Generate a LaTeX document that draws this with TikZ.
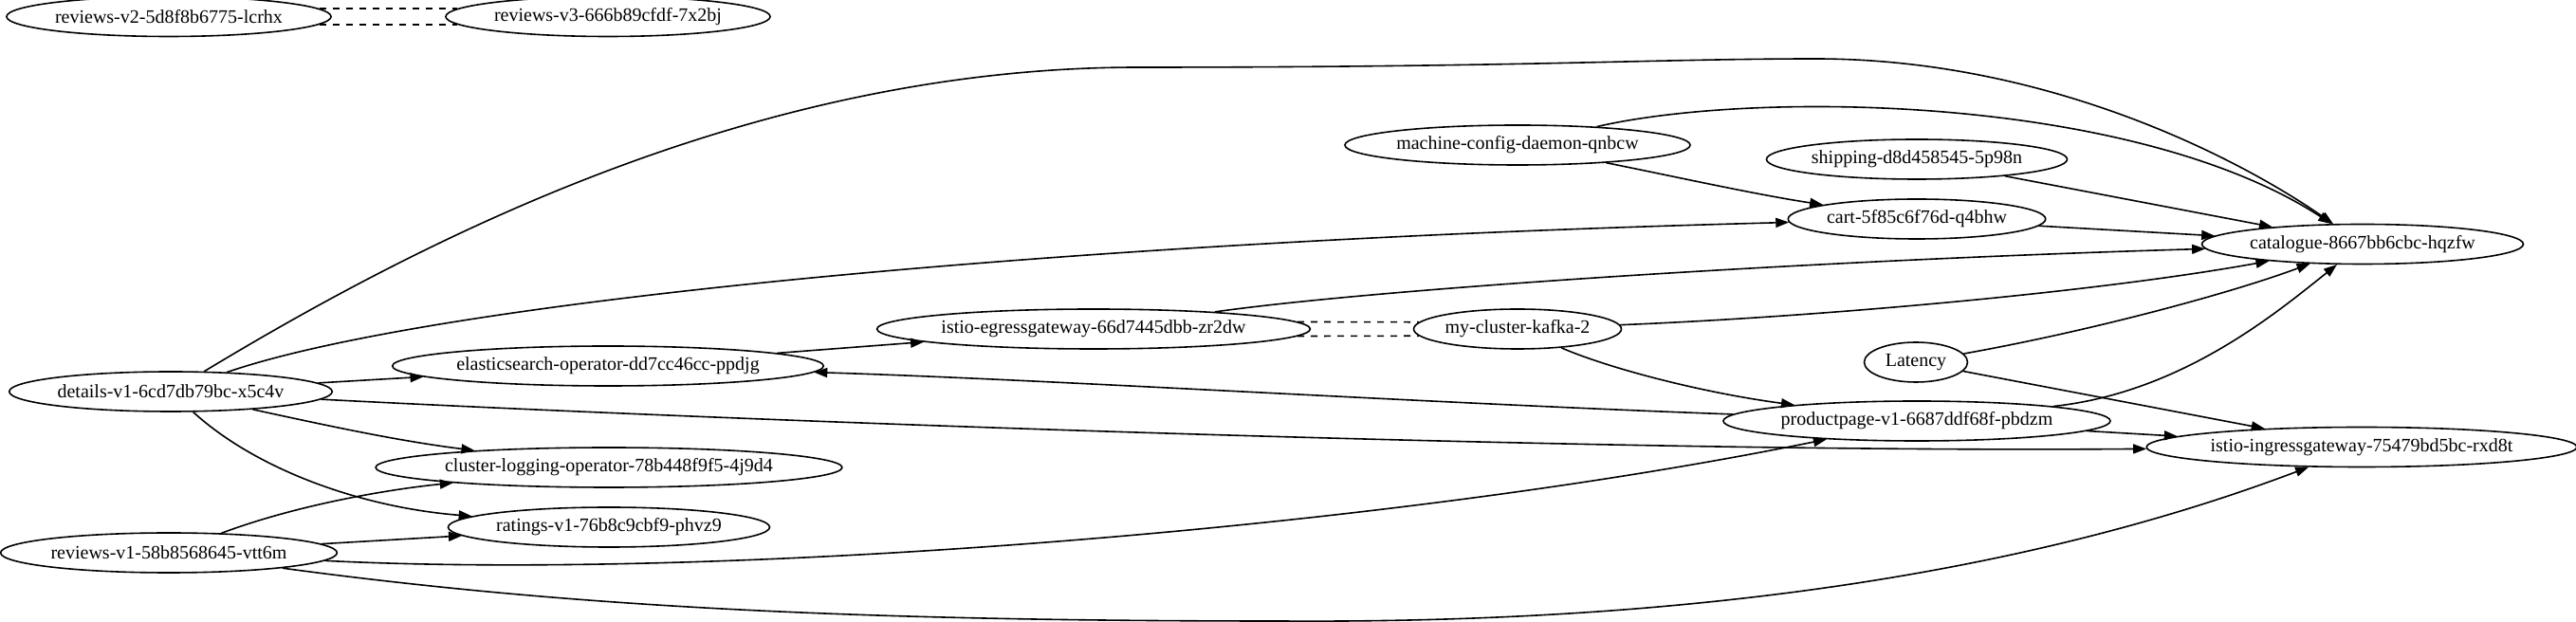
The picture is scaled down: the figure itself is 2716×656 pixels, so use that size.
\documentclass[tikz,border=0pt]{standalone}
\usepackage{fontspec}
\setmainfont{Liberation Serif}
\usepackage{tikz}
\usetikzlibrary{shapes, arrows.meta}
\tikzset{>={Triangle[length=7pt,width=5pt]}}

\begin{document}
\begin{tikzpicture}
[x=0.5pt, y=-0.5pt, line width=0.8pt,
pod/.style={ellipse, draw, inner xsep=0.5pt, inner ysep=1pt, minimum height=21pt},
twin/.style={dash pattern=on 3.5pt off 3.5pt}]
\useasboundingbox (0,0) rectangle (2716,656);

\node[pod] (rv2)  at (178,17.5)   {reviews-v2-5d8f8b6775-lcrhx};
\node[pod] (rv3)  at (641,17.5)   {reviews-v3-666b89cfdf-7x2bj};
\node[pod] (det)  at (180,413)    {details-v1-6cd7db79bc-x5c4v};
\node[pod] (es)   at (641,386)    {elasticsearch-operator-dd7cc46cc-ppdjg};
\node[pod] (clo)  at (642,493)    {cluster-logging-operator-78b448f9f5-4j9d4};
\node[pod] (rat)  at (642,556)    {ratings-v1-76b8c9cbf9-phvz9};
\node[pod] (rv1)  at (178,583)    {reviews-v1-58b8568645-vtt6m};
\node[pod] (egr)  at (1153,347)   {istio-egressgateway-66d7445dbb-zr2dw};
\node[pod] (kaf)  at (1600,347)   {my-cluster-kafka-2};
\node[pod] (mcd)  at (1600,153)   {machine-config-daemon-qnbcw};
\node[pod] (shp)  at (2021,168)   {shipping-d8d458545-5p98n};
\node[pod] (cart) at (2021,231)   {cart-5f85c6f76d-q4bhw};
\node[pod] (cat)  at (2491,257.5) {catalogue-8667bb6cbc-hqzfw};
\node[pod, minimum width=54.5pt] (lat) at (2020,382) {Latency};
\node[pod] (pp)   at (2021,444)   {productpage-v1-6687ddf68f-pbdzm};
\node[pod] (ing)  at (2490,471.5) {istio-ingressgateway-75479bd5bc-rxd8t};

\draw[->] (det) .. controls (450,250) and (800,71) .. (1200,71)
  .. controls (1600,71) and (1750,62) .. (1914,62)
  .. controls (2150,62) and (2350,160) .. (cat);
\draw[->] (det) .. controls (450,320) and (1100,255) .. (cart);
\draw[->] (det) -- (es);
\draw[->] (det) .. controls (800,445) and (1700,478) .. (ing);
\draw[->] (det) .. controls (350,450) and (420,465) .. (clo);
\draw[->] (det) .. controls (270,495) and (380,535) .. (rat);
\draw[->] (rv1) .. controls (320,530) and (420,515) .. (clo);
\draw[->] (rv1) -- (rat);
\draw[->] (rv1) .. controls (750,612) and (1450,560) .. (pp);
\draw[->] (rv1) .. controls (600,640) and (900,655) .. (1350,655)
  .. controls (1800,658) and (2150,600) .. (ing);
\draw[->] (es) -- (egr);
\draw[->] (egr) .. controls (1450,305) and (1900,275) .. (cat);
\draw[->] (kaf) .. controls (1900,335) and (2200,310) .. (cat);
\draw[->] (kaf) .. controls (1700,390) and (1800,415) .. (pp);
\draw[->] (mcd) .. controls (1850,95) and (2250,100) .. (cat);
\draw[->] (mcd) .. controls (1760,185) and (1850,205) .. (cart);
\draw[->] (shp) -- (cat);
\draw[->] (cart) -- (cat);
\draw[->] (lat) .. controls (2200,350) and (2350,310) .. (cat);
\draw[->] (lat) -- (ing);
\draw[->] (pp) .. controls (2300,414) and (2400,330) .. (cat);
\draw[->] (pp) -- (ing);
\draw[->] (pp) .. controls (1500,425) and (1100,400) .. (es);

\draw[twin] (rv2.3) -- (rv3.177);
\draw[twin] (rv2.357) -- (rv3.183);
\draw[twin] (egr.2) -- (kaf.176);
\draw[twin] (egr.358) -- (kaf.184);
\end{tikzpicture}
\end{document}
